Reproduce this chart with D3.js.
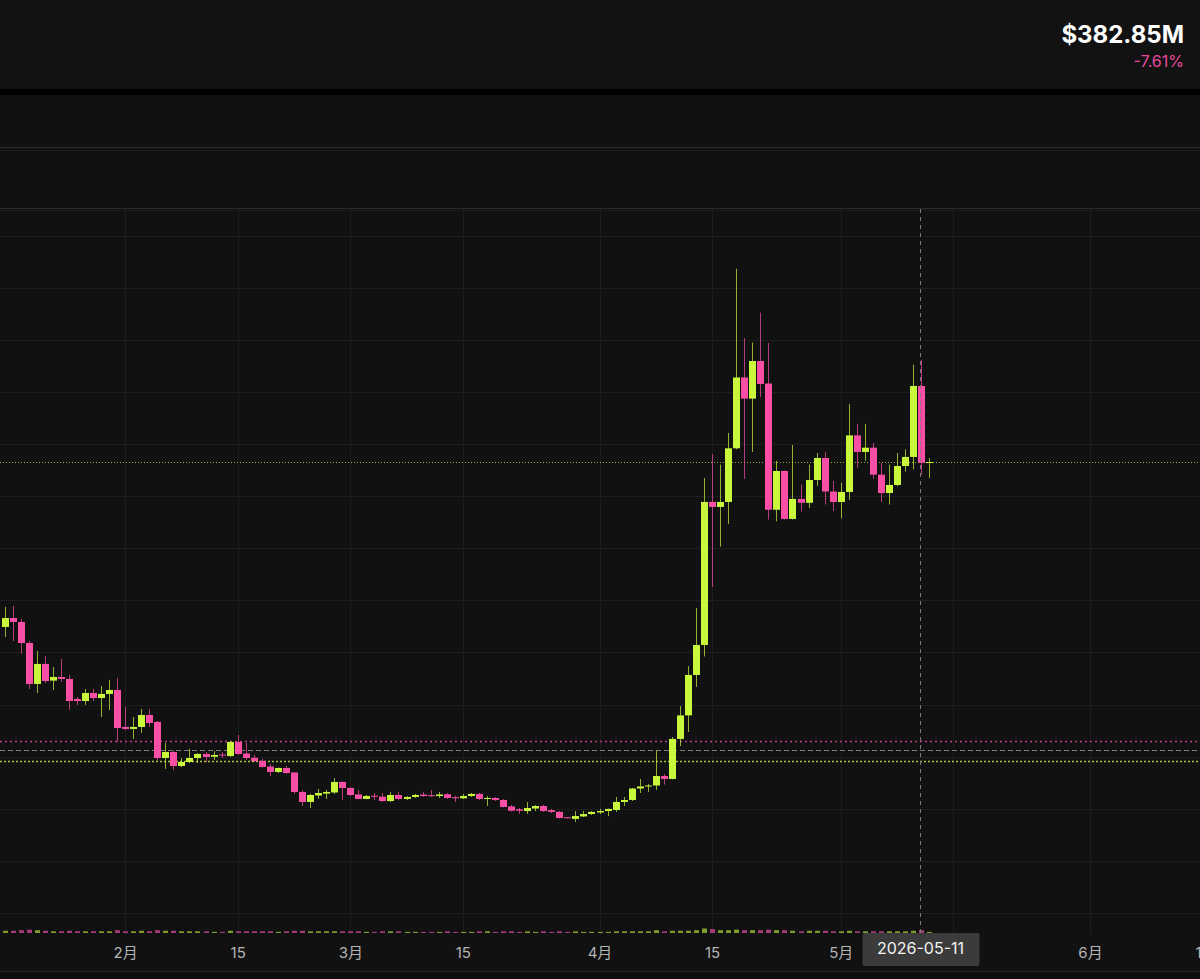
<!DOCTYPE html>
<html>
<head>
<meta charset="utf-8">
<title>market cap</title>
<script src="https://cdn.jsdelivr.net/npm/d3@7"></script>
<style>
  html, body { margin: 0; padding: 0; background: #111111; overflow: hidden; }
  #chart { display: block; font-family: Inter, "Noto Sans CJK SC", "Liberation Sans", sans-serif; }
</style>
</head>
<body>
<svg id="chart" width="1200" height="979"></svg>
<script>

// daily candles, market cap in $M, first candle is 2026-01-17
var firstDay = "2026-01-17";

var opens = [
  224.5, 233.1, 229.3, 209.1, 169.8, 189.0, 173.0, 176.5, 174.6, 155.4,
  153.4, 161.1, 156.3, 160.2, 164.0, 128.5, 126.6, 128.5, 140.0, 133.3,
  98.7, 104.5, 91.0, 94.9, 98.7, 102.6, 99.9, 102.1, 100.6, 114.1,
  103.0, 98.9, 96.0, 90.5, 85.3, 89.1, 84.8, 66.1, 56.5, 62.7,
  64.5, 65.6, 75.7, 69.9, 63.7, 59.4, 62.5, 61.6, 57.4, 63.2,
  59.4, 61.3, 63.6, 63.0, 62.2, 63.9, 61.0, 60.0, 62.2, 64.2,
  59.4, 60.3, 58.4, 52.2, 49.5, 47.8, 50.2, 52.6, 48.6, 47.0,
  41.8, 40.2, 42.6, 44.9, 46.4, 47.8, 48.8, 56.5, 58.4, 69.4,
  71.4, 72.3, 81.4, 78.6, 117.0, 139.6, 178.4, 207.2, 344.5, 339.7,
  344.5, 396.0, 464.0, 443.7, 479.8, 458.2, 337.0, 374.2, 328.2, 347.4,
  343.7, 365.6, 386.7, 354.5, 344.5, 354.1, 408.4, 392.5, 396.6, 370.7,
  353.1, 360.8, 379.0, 387.7, 455.8, 382.1
];
var highs = [
  243.7, 244.6, 232.2, 211.0, 201.4, 196.6, 186.1, 193.8, 178.4, 157.3,
  165.0, 165.0, 167.8, 173.6, 175.5, 147.7, 138.1, 145.8, 145.8, 134.2,
  113.1, 105.4, 98.7, 107.4, 103.5, 104.5, 105.4, 104.5, 115.0, 120.8,
  113.1, 101.6, 98.0, 93.0, 89.6, 91.0, 85.3, 68.0, 64.2, 69.0,
  68.0, 79.5, 76.2, 70.9, 68.0, 63.2, 65.1, 65.1, 66.1, 66.1,
  62.2, 64.2, 66.1, 68.0, 66.1, 65.1, 62.2, 64.2, 65.1, 65.1,
  62.2, 61.3, 59.4, 53.6, 50.7, 56.5, 53.6, 53.6, 49.8, 47.8,
  42.1, 47.8, 47.8, 47.8, 49.8, 50.2, 61.3, 61.3, 69.9, 78.6,
  73.8, 105.9, 83.4, 118.9, 148.6, 187.0, 242.7, 367.5, 390.6, 380.4,
  410.7, 568.4, 501.9, 497.6, 526.3, 497.1, 384.1, 374.7, 399.2, 361.2,
  380.4, 391.5, 392.5, 364.6, 362.9, 438.6, 419.4, 419.4, 401.1, 382.1,
  380.4, 391.5, 394.9, 476.4, 480.8, 386.7
];
var lows = [
  214.9, 211.0, 198.6, 165.0, 161.1, 170.7, 164.0, 171.7, 144.8, 149.6,
  149.6, 153.4, 138.1, 144.8, 114.1, 125.6, 117.0, 122.7, 128.5, 95.8,
  88.2, 87.2, 90.1, 93.9, 93.9, 94.9, 96.8, 98.7, 99.7, 101.6,
  96.8, 94.9, 89.5, 81.4, 84.3, 83.4, 64.2, 52.6, 50.7, 59.4,
  59.4, 64.2, 58.4, 62.2, 59.0, 59.0, 58.4, 56.5, 56.5, 58.4,
  58.4, 60.3, 61.3, 61.3, 60.3, 59.4, 56.5, 59.4, 61.3, 58.4,
  52.6, 57.4, 51.2, 47.4, 44.9, 44.9, 47.8, 46.9, 45.9, 40.6,
  40.8, 37.3, 42.1, 44.0, 44.9, 43.0, 46.9, 52.6, 57.4, 65.1,
  66.1, 68.0, 73.2, 78.2, 110.2, 123.7, 166.9, 196.2, 262.9, 301.6,
  323.4, 395.0, 366.6, 392.5, 445.3, 327.6, 325.9, 327.6, 327.6, 335.3,
  338.7, 359.8, 342.0, 335.8, 328.6, 346.4, 377.4, 384.1, 366.6, 344.5,
  342.0, 359.8, 373.7, 375.7, 370.7, 367.5
];
var closes = [
  233.1, 229.3, 209.1, 169.8, 189.0, 172.6, 176.5, 174.6, 153.4, 153.4,
  161.1, 156.3, 160.2, 164.0, 127.5, 126.6, 128.5, 140.0, 132.3, 98.7,
  104.5, 91.0, 94.9, 98.7, 102.6, 99.7, 101.6, 101.1, 114.1, 102.6,
  98.7, 95.8, 90.1, 85.3, 89.1, 84.3, 66.1, 56.5, 63.2, 65.1,
  66.1, 75.7, 69.9, 63.2, 59.4, 62.2, 61.6, 57.4, 63.2, 59.4,
  61.3, 63.2, 62.2, 62.2, 63.7, 60.3, 60.0, 62.2, 64.2, 59.4,
  60.3, 58.4, 51.7, 48.1, 48.1, 50.7, 52.6, 47.8, 46.9, 41.1,
  41.1, 43.0, 44.9, 46.9, 47.8, 49.8, 56.5, 58.4, 69.4, 71.4,
  72.3, 81.4, 78.6, 117.0, 139.6, 178.4, 207.2, 344.5, 339.7, 344.5,
  396.0, 464.0, 443.7, 479.8, 457.8, 337.0, 374.2, 328.2, 347.4, 343.7,
  365.6, 386.7, 354.5, 344.5, 354.1, 408.4, 392.5, 396.6, 370.7, 353.1,
  360.8, 379.0, 387.7, 455.8, 382.1, 382.85
];
var volumes = [
  4, 4, 5, 6, 5, 4, 3, 3, 4, 3, 3, 3, 3, 3, 5, 3, 3, 4, 3, 5,
  4, 4, 3, 3, 3, 3, 2, 2, 4, 3, 3, 3, 3, 3, 2, 3, 4, 4, 3, 3,
  3, 3, 3, 3, 3, 2, 2, 3, 3, 3, 2, 2, 2, 2, 2, 3, 2, 2, 2, 3,
  3, 2, 3, 3, 2, 3, 2, 3, 2, 3, 2, 3, 2, 2, 2, 2, 3, 3, 3, 3,
  3, 5, 3, 4, 4, 4, 5, 8, 7, 5, 5, 6, 5, 5, 5, 6, 5, 5, 4, 3,
  4, 4, 4, 3, 3, 4, 3, 3, 3, 3, 3, 3, 3, 4, 5, 2
];

var tickDays = ["2026-02-01", "2026-02-15", "2026-03-01", "2026-03-15", "2026-04-01",
                "2026-04-15", "2026-05-01", "2026-05-15", "2026-06-01", "2026-06-15"];

var lastPrice = 382.85;
var changePct = -7.61;
var pinkLevel = 115.0;
var dashLevel = 106.4;
var greenLevel = 95.8;
var crosshairDay = "2026-05-11";

var GREEN = "#c8f73c";
var PINK = "#fb4fa6";

var parseDay = d3.utcParse("%Y-%m-%d");

function buildCandles() {
    var start = parseDay(firstDay);
    var list = [];
    for (var i = 0; i < closes.length; i++) {
        list.push({
            date: d3.utcDay.offset(start, i),
            open: opens[i], high: highs[i], low: lows[i], close: closes[i],
            vol: volumes[i]
        });
    }
    return list;
}

function draw(data) {
    var W = 1200, H = 979;
    var paneTop = 209, volBase = 933, axisTop = 935;

    var svg = d3.select("#chart");

    // backgrounds
    svg.append("rect").attr("width", W).attr("height", H).attr("fill", "#111111");
    svg.append("rect").attr("y", 0).attr("width", W).attr("height", 89).attr("fill", "#121212");
    svg.append("rect").attr("y", 89).attr("width", W).attr("height", 6).attr("fill", "#000");
    svg.append("rect").attr("y", 972).attr("width", W).attr("height", 7).attr("fill", "#0d0d0d");

    [[147.5, "#2a2a2a"], [150.5, "#1a1a1a"], [208.5, "#2c2c2c"], [210.5, "#1a1a1a"], [971.5, "#242424"]]
        .forEach(function(l) {
            svg.append("line").attr("x1", 0).attr("x2", W)
                .attr("y1", l[0]).attr("y2", l[0])
                .attr("stroke", l[1]).attr("stroke-width", 1);
        });

    var x = d3.scaleUtc()
        .domain([parseDay("2026-01-17"), parseDay("2026-06-01")])
        .range([4.5, 1090]);
    var y = d3.scaleLinear()
        .domain([-50, 600])
        .range([912.9, 235.8]);
    var v = d3.scaleLinear()
        .domain([0, 8])
        .range([0, 4.5]);

    var ticks = tickDays.map(parseDay);
    var cx = Math.round(x(parseDay(crosshairDay))) - 0.5;

    // grid
    var grid = svg.append("g").attr("stroke", "#1d1d1d").attr("stroke-width", 1);
    grid.selectAll("line.h")
        .data(y.ticks(13))
        .enter().append("line")
        .attr("class", "h")
        .attr("x1", 0).attr("x2", W)
        .attr("y1", function(d) { return Math.round(y(d)) + 0.5; })
        .attr("y2", function(d) { return Math.round(y(d)) + 0.5; });
    grid.selectAll("line.v")
        .data(ticks)
        .enter().append("line")
        .attr("class", "v")
        .attr("x1", function(d) { return Math.round(x(d)) + 0.5; })
        .attr("x2", function(d) { return Math.round(x(d)) + 0.5; })
        .attr("y1", paneTop).attr("y2", axisTop);

    // level lines
    function level(val, color, dash, w) {
        svg.append("line")
            .attr("x1", 0).attr("x2", W)
            .attr("y1", Math.round(y(val)) + 0.5).attr("y2", Math.round(y(val)) + 0.5)
            .attr("stroke", color).attr("stroke-width", w)
            .attr("stroke-dasharray", dash);
    }
    level(pinkLevel, "#c03a8c", "2,3", 1.3);
    level(dashLevel, "#7c7c7c", "5,3", 1);
    level(greenLevel, "#a9c83a", "2,2", 1.3);
    level(lastPrice, "#93ad36", "1,2", 1);

    // volume
    svg.append("g").selectAll("rect")
        .data(data)
        .enter().append("rect")
        .attr("x", function(d) { return Math.round(x(d.date)) - 2; })
        .attr("width", 5)
        .attr("y", function(d) { return volBase - Math.max(1, v(d.vol)); })
        .attr("height", function(d) { return Math.max(1, v(d.vol)); })
        .attr("fill", function(d) { return d.close >= d.open ? "#7f9c2a" : "#a23a77"; });

    // candles
    var candles = svg.append("g").selectAll("g")
        .data(data)
        .enter().append("g");

    candles.append("line")
        .attr("x1", function(d) { return Math.round(x(d.date)) + 0.5; })
        .attr("x2", function(d) { return Math.round(x(d.date)) + 0.5; })
        .attr("y1", function(d) { return y(d.high); })
        .attr("y2", function(d) { return y(d.low); })
        .attr("stroke", function(d) { return d.close >= d.open ? GREEN : PINK; })
        .attr("stroke-opacity", 0.7)
        .attr("stroke-width", 1);

    candles.append("rect")
        .attr("x", function(d) { return Math.round(x(d.date)) - 3; })
        .attr("width", 7)
        .attr("y", function(d) { return y(Math.max(d.open, d.close)); })
        .attr("height", function(d) { return Math.max(1, Math.abs(y(d.open) - y(d.close))); })
        .attr("fill", function(d) { return d.close >= d.open ? GREEN : PINK; });

    // crosshair
    svg.append("line")
        .attr("x1", cx).attr("x2", cx)
        .attr("y1", paneTop).attr("y2", volBase)
        .attr("stroke", "#7a7a7a").attr("stroke-width", 1)
        .attr("stroke-dasharray", "4,4");

    // time axis, the label under the crosshair box is hidden like in the app
    var fmt = function(d) {
        if (Math.abs(x(d) - cx) < 60) return "";
        return d.getUTCDate() === 1 ? (d.getUTCMonth() + 1) + "月" : String(d.getUTCDate());
    };
    var axis = svg.append("g")
        .attr("transform", "translate(0," + axisTop + ")")
        .call(d3.axisBottom(x).tickValues(ticks).tickFormat(fmt).tickSize(0).tickPadding(12));
    axis.select(".domain").remove();
    axis.selectAll("text")
        .attr("fill", "#b4b4b4")
        .style("font-size", "15px")
        .style("font-family", "Inter, 'Noto Sans CJK SC', sans-serif");

    // crosshair date label
    svg.append("rect")
        .attr("x", cx - 58).attr("y", 933)
        .attr("width", 117).attr("height", 33)
        .attr("rx", 2)
        .attr("fill", "#3b3b3b");
    svg.append("text")
        .attr("x", cx).attr("y", 950)
        .attr("text-anchor", "middle")
        .attr("dominant-baseline", "middle")
        .attr("fill", "#f2f2f2")
        .style("font-size", "16px")
        .text(crosshairDay);

    // header
    svg.append("text")
        .attr("x", 1184).attr("y", 43)
        .attr("text-anchor", "end")
        .attr("fill", "#ffffff")
        .style("font-size", "24px")
        .style("font-weight", "700")
        .text("$" + lastPrice.toFixed(2) + "M");
    svg.append("text")
        .attr("x", 1184).attr("y", 67)
        .attr("text-anchor", "end")
        .attr("fill", "#e84a9c")
        .style("font-size", "16px")
        .text(changePct.toFixed(2) + "%");
}

draw(buildCandles());
</script>
</body>
</html>
